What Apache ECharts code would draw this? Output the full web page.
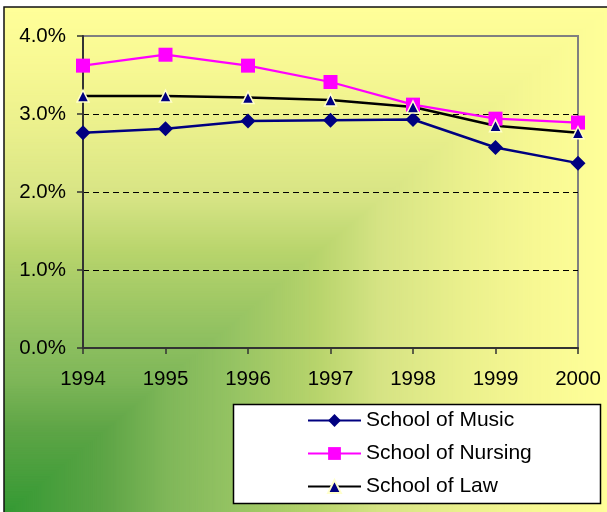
<!DOCTYPE html>
<html>
<head>
<meta charset="utf-8">
<script src="https://cdn.jsdelivr.net/npm/echarts@6/dist/echarts.min.js"></script>
<style>
  html, body { margin: 0; padding: 0; background: #fff; }
  #chart { width: 607px; height: 512px; }
</style>
</head>
<body>
<div id="chart"></div>
<script>
// 年份
const years = ['1994', '1995', '1996', '1997', '1998', '1999', '2000']
// 各学院数值 (%)
const music = [2.76, 2.81, 2.91, 2.92, 2.93, 2.57, 2.37]
const nursing = [3.62, 3.76, 3.62, 3.41, 3.12, 2.94, 2.89]
const law = [3.23, 3.23, 3.21, 3.18, 3.09, 2.85, 2.76]
// y 轴刻度
const yTicks = [0, 1, 2, 3, 4]

const FONT = 'Liberation Sans, Arial, sans-serif'

// 背景渐变（从左下角）
const bgStops = [
  [0, [0x33, 0x99, 0x33]],
  [0.17, [0x5e, 0xa5, 0x46]],
  [0.27, [0x7f, 0xb7, 0x59]],
  [0.37, [0x93, 0xc2, 0x62]],
  [0.52, [0xb8, 0xd4, 0x6c]],
  [0.62, [0xd5, 0xe3, 0x84]],
  [0.75, [0xe9, 0xef, 0x8c]],
  [0.88, [0xf7, 0xf8, 0x93]],
  [1, [0xff, 0xff, 0x99]]
]

function bgColor(t) {
  for (let i = 1; i < bgStops.length; i++) {
    if (t <= bgStops[i][0]) {
      const [t0, c0] = bgStops[i - 1]
      const [t1, c1] = bgStops[i]
      const k = (t - t0) / (t1 - t0)
      const c = c0.map((v, j) => Math.round(v + (c1[j] - v) * k))
      return `rgb(${c[0]},${c[1]},${c[2]})`
    }
  }
  return 'rgb(255,255,153)'
}

function makeBg(w, h) {
  const cv = document.createElement('canvas')
  cv.width = w
  cv.height = h
  const ctx = cv.getContext('2d')
  const n = 300
  for (let i = n; i >= 1; i--) {
    const t = i / n
    ctx.fillStyle = bgColor(t)
    ctx.fillRect(0, h * (1 - t), w * t, h * t)
  }
  return cv
}

const bgW = 606, bgH = 508
const bgCanvas = makeBg(bgW, bgH)

const chart = echarts.init(document.getElementById('chart'), null, { renderer: 'canvas' })

chart.setOption({
  animation: false,
  textStyle: { fontFamily: FONT },
  graphic: [
    {
      type: 'image',
      z: -10,
      silent: true,
      style: { image: bgCanvas, x: 4, y: 7, width: bgW, height: bgH }
    },
    {
      type: 'rect',
      z: -9,
      silent: true,
      shape: { x: 4, y: 7, width: 640, height: 540 },
      style: { fill: 'none', stroke: '#111', lineWidth: 1.5 }
    },
    {
      type: 'rect',
      z: 5,
      silent: true,
      shape: { x: 233.5, y: 404.5, width: 367, height: 99 },
      style: { fill: '#fff', stroke: '#000', lineWidth: 1.5 }
    }
  ],
  grid: {
    left: 83,
    right: 29,
    top: 36,
    bottom: 164,
    show: true,
    backgroundColor: 'transparent',
    borderColor: '#808080',
    borderWidth: 2
  },
  legend: {
    orient: 'vertical',
    left: 307,
    top: 410,
    z: 10,
    padding: 0,
    itemWidth: 53,
    itemHeight: 16,
    itemGap: 12,
    selectedMode: false,
    textStyle: { fontFamily: FONT, fontSize: 21, color: '#000' },
    data: ['School of Music', 'School of Nursing', 'School of Law']
  },
  xAxis: {
    type: 'category',
    data: years,
    boundaryGap: false,
    axisLine: { lineStyle: { color: '#333', width: 2 } },
    axisTick: { length: 6, lineStyle: { color: '#333', width: 1.5 } },
    axisLabel: { fontFamily: FONT, fontSize: 20.5, color: '#000', margin: 21 },
    splitLine: { show: false }
  },
  yAxis: {
    type: 'value',
    min: yTicks[0],
    max: yTicks[yTicks.length - 1],
    interval: 1,
    axisLine: { show: true, lineStyle: { color: '#333', width: 2 } },
    axisTick: { show: true, length: 6, lineStyle: { color: '#333', width: 1.5 } },
    axisLabel: {
      fontFamily: FONT,
      fontSize: 20.5,
      color: '#000',
      margin: 17,
      formatter: v => v.toFixed(1) + '%'
    },
    splitLine: {
      show: true,
      showMinLine: false,
      showMaxLine: false,
      lineStyle: { color: '#000', type: [6, 4], width: 1 }
    }
  },
  series: [
    {
      name: 'School of Music',
      type: 'line',
      data: music,
      symbol: 'diamond',
      symbolSize: 15,
      itemStyle: { color: '#000080' },
      lineStyle: { color: '#000080', width: 2.5 }
    },
    {
      name: 'School of Nursing',
      type: 'line',
      data: nursing,
      symbol: 'rect',
      symbolSize: 14,
      itemStyle: { color: '#ff00ff' },
      lineStyle: { color: '#ff00ff', width: 2.25 }
    },
    {
      name: 'School of Law',
      type: 'line',
      data: law,
      symbol: 'triangle',
      symbolSize: 12,
      itemStyle: { color: '#000080', borderColor: '#ffffcc', borderWidth: 1.5 },
      lineStyle: { color: '#000', width: 2.5 }
    }
  ]
})
</script>
</body>
</html>
